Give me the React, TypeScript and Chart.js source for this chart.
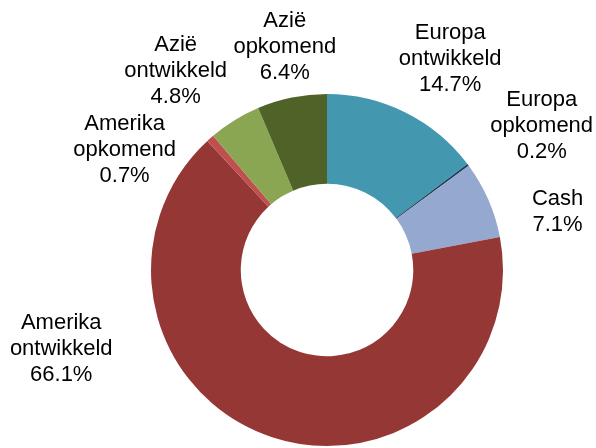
import React, { useEffect, useRef } from "react";
import { Chart, registerables } from "chart.js";

Chart.register(...registerables);

const categories = [
  "Europa ontwikkeld",
  "Europa opkomend",
  "Cash",
  "Amerika ontwikkeld",
  "Amerika opkomend",
  "Azië ontwikkeld",
  "Azië opkomend",
];
const labelLines = [
  ["Europa", "ontwikkeld"],
  ["Europa", "opkomend"],
  ["Cash"],
  ["Amerika", "ontwikkeld"],
  ["Amerika", "opkomend"],
  ["Azië", "ontwikkeld"],
  ["Azië", "opkomend"],
];
const values = [14.7, 0.2, 7.1, 66.1, 0.7, 4.8, 6.4];
const colors = ["#4398B0", "#1F3F55", "#95A9D0", "#953735", "#C0504D", "#8BA653", "#4F6228"];

// label centre offsets relative to the doughnut centre, in units of outer radius
const labelOffsets: [number, number][] = [
  [0.70, -1.20],
  [1.22, -0.82],
  [1.31, -0.33],
  [-1.51, 0.45],
  [-1.15, -0.68],
  [-0.86, -1.13],
  [-0.24, -1.27],
];

const labelPlugin = {
  id: "outerLabels",
  afterDraw(chart: any) {
    const ctx = chart.ctx;
    const meta = chart.getDatasetMeta(0);
    ctx.save();
    ctx.font = '22px "Liberation Sans", Arial, sans-serif';
    ctx.fillStyle = "#000000";
    ctx.textAlign = "center";
    ctx.textBaseline = "middle";
    const lh = 26;
    meta.data.forEach((arc: any, i: number) => {
      const cx = arc.x;
      const cy = arc.y;
      const r = arc.outerRadius;
      const lines = [...labelLines[i], values[i].toFixed(1) + "%"];
      const x = cx + labelOffsets[i][0] * r;
      const y = cy + labelOffsets[i][1] * r;
      const top = y - ((lines.length - 1) * lh) / 2;
      lines.forEach((t, j) => ctx.fillText(t, x, top + j * lh));
    });
    ctx.restore();
  },
};

export default function App() {
  const ref = useRef<HTMLCanvasElement>(null);
  useEffect(() => {
    if (!ref.current) return;
    const chart = new Chart(ref.current, {
      type: "doughnut",
      data: {
        labels: categories,
        datasets: [
          {
            data: values,
            backgroundColor: colors,
            borderWidth: 0,
          },
        ],
      },
      options: {
        animation: false,
        responsive: false,
        cutout: "49%",
        layout: { padding: { left: 151, right: 93, top: 94, bottom: 2 } },
        plugins: {
          legend: { display: false },
          tooltip: { enabled: false },
        },
      },
      plugins: [labelPlugin],
    });
    return () => chart.destroy();
  }, []);
  return (
    <div style={{ position: "fixed", left: 0, top: 0, width: 596, height: 448, background: "#fff" }}>
      <canvas ref={ref} width={596} height={448} style={{ width: 596, height: 448 }} />
    </div>
  );
}
